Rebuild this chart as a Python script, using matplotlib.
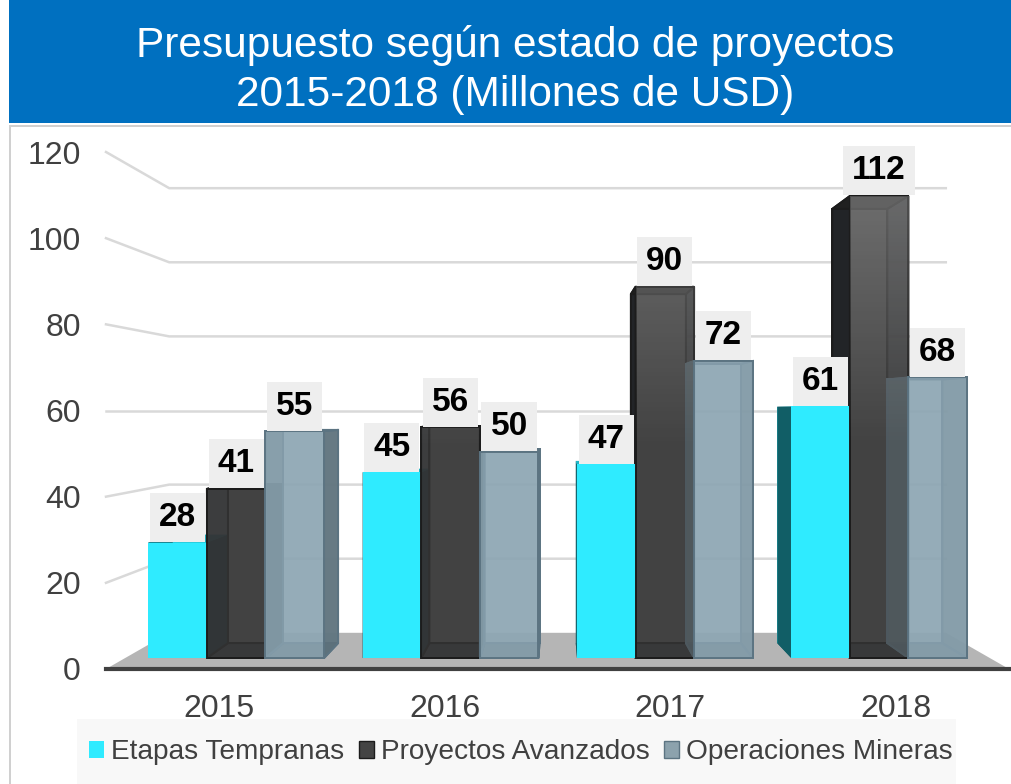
import matplotlib
matplotlib.use('Agg')
import matplotlib.pyplot as plt
import numpy as np
from matplotlib.patches import Rectangle, Patch

plt.rcParams['font.family'] = ['Liberation Sans', 'DejaVu Sans']

years = ['2015', '2016', '2017', '2018']
series_names = ['Etapas Tempranas', 'Proyectos Avanzados', 'Operaciones Mineras']
etapas = [28, 45, 47, 61]
proyectos = [41, 56, 90, 112]
operaciones = [55, 50, 72, 68]
y_ticks = [0, 20, 40, 60, 80, 100, 120]
title = 'Presupuesto según estado de proyectos\n2015-2018 (Millones de USD)'

W, H = 1012, 784
# perspective of the fake 3d chart, all in data units
VX, VY = 1.5, 60
S_FRONT, S_BACK, S_WALL = 0.9575, 0.90, 0.86
BAR_W = 0.2711
SPREAD, SHIFT = 0.9915, 0.0135

front_col = ['#2FEBFF', (0.26, 0.26, 0.26, 0.55), (0.56, 0.66, 0.71, 0.75)]
side_col = ['#115E66', (0.12, 0.13, 0.14, 0.90), (0.36, 0.44, 0.48, 0.85)]
back_col = ['#2FEBFF', (0.26, 0.26, 0.26, 1.0), (0.54, 0.63, 0.68, 0.75)]
top_col = ['#22B4C4', (0.12, 0.12, 0.12, 0.95), (0.42, 0.50, 0.55, 0.90)]
edge_col = ['none', '#1c1c1c', '#5C7482']


def proj(x, v, s):
    return VX + (x - VX) * s, VY + (v - VY) * s


def face(ax, pts, color, edge='none', z=3):
    xs = [p[0] for p in pts]
    ys = [p[1] for p in pts]
    ax.fill(xs, ys, facecolor=color, edgecolor=edge, linewidth=1.4, zorder=z, clip_on=False)


def sheen(ax, a, b, v, z):
    # tall dark bars get lighter towards the top
    x0, y0 = proj(a, 50, S_FRONT)
    x1, y1 = proj(b, v, S_FRONT)
    n = 40
    img = np.ones((n, 1, 4))
    lev = np.linspace(50, v, n)
    img[:, 0, 3] = np.clip((lev - 50) / 60, 0, 1) * 0.22
    ax.imshow(img, extent=(x0, x1, y0, y1), origin='lower', aspect='auto', zorder=z, interpolation='bilinear')


fig = plt.figure(figsize=(W / 100, H / 100), dpi=100)
fig.patches.append(Rectangle((9 / W, 1 - 123 / H), 1 - 9 / W, 123 / H, transform=fig.transFigure, facecolor='#0070C0', edgecolor='none'))
fig.patches.append(Rectangle((9 / W, 0), 2 / W, 1 - 126 / H, transform=fig.transFigure, facecolor='#D0D0D0', edgecolor='none'))
fig.patches.append(Rectangle((9 / W, 1 - 127 / H), 1 - 9 / W, 2 / H, transform=fig.transFigure, facecolor='#D0D0D0', edgecolor='none'))
fig.patches.append(Rectangle((77 / W, 0), 879 / W, 65 / H, transform=fig.transFigure, facecolor='#F8F8F8', edgecolor='none'))
fig.text(515 / W, 1 - 70 / H, title, color='white', fontsize=30.5, ha='center', va='center', linespacing=1.28)

ax = fig.add_axes([106 / W, 1 - 669 / H, 903 / W, 517 / H])
ax.patch.set_alpha(0)
for name in ['top', 'left', 'right']:
    ax.spines[name].set_visible(False)
ax.spines['bottom'].set_linewidth(3)
ax.spines['bottom'].set_color('#404040')
ax.spines['bottom'].set_zorder(5)
ax.set_xticks(range(len(years)))
ax.set_xticklabels(years)
ax.set_yticks(y_ticks)
ax.tick_params(axis='x', length=0, pad=18, labelsize=23, labelcolor='#404040')
ax.tick_params(axis='y', length=0, pad=18, labelsize=23, labelcolor='#404040')

# walls and floor
for v in y_ticks[1:]:
    x0, y0 = proj(-0.5, v, 1)
    x1, y1 = proj(-0.5, v, S_WALL)
    x2, y2 = proj(3.5, v, S_WALL)
    ax.plot([x0, x1, x2], [y0, y1, y2], color='#D9D9D9', lw=1.8, zorder=1, clip_on=False)
face(ax, [proj(-0.5, 0, 1), proj(3.5, 0, 1), proj(3.5, 0, S_WALL), proj(-0.5, 0, S_WALL)], '#B5B5B5', z=2)

all_series = [etapas, proyectos, operaciones]
for i in range(len(years)):
    for j, vals in enumerate(all_series):
        a = i * SPREAD + SHIFT + (j - 1.5) * BAR_W
        b = a + BAR_W
        v = vals[i]
        z = 3 + j * 0.1
        # back, floor, top and the two sides
        face(ax, [proj(a, 0, S_BACK), proj(b, 0, S_BACK), proj(b, v, S_BACK), proj(a, v, S_BACK)], back_col[j], edge_col[j], z)
        face(ax, [proj(a, 0, S_FRONT), proj(b, 0, S_FRONT), proj(b, 0, S_BACK), proj(a, 0, S_BACK)], side_col[j], edge_col[j], z)
        face(ax, [proj(a, 0, S_FRONT), proj(a, v, S_FRONT), proj(a, v, S_BACK), proj(a, 0, S_BACK)], side_col[j], edge_col[j], z)
        face(ax, [proj(b, 0, S_FRONT), proj(b, v, S_FRONT), proj(b, v, S_BACK), proj(b, 0, S_BACK)], side_col[j], edge_col[j], z)
        face(ax, [proj(a, v, S_FRONT), proj(b, v, S_FRONT), proj(b, v, S_BACK), proj(a, v, S_BACK)], top_col[j], edge_col[j], z)
    for j, vals in enumerate(all_series):
        a = i * SPREAD + SHIFT + (j - 1.5) * BAR_W
        b = a + BAR_W
        v = vals[i]
        face(ax, [proj(a, 0, S_FRONT), proj(b, 0, S_FRONT), proj(b, v, S_FRONT), proj(a, v, S_FRONT)], front_col[j], edge_col[j], 4 + j * 0.1)
        if j == 1 and v > 50:
            sheen(ax, a, b, v, 4.15)
        tx, ty = proj(a + BAR_W / 2, v, S_FRONT)
        ax.annotate(str(v), (tx, ty), xytext=(0, 18), textcoords='offset points', ha='center', va='center',
                    fontsize=24, fontweight='bold', color='black', zorder=6, annotation_clip=False,
                    bbox=dict(facecolor='#EEEEEE', edgecolor='none', pad=6.5))

ax.set_xlim(-0.5, 3.5)
ax.set_ylim(0, 120)

handles = [Patch(facecolor='#2FEBFF', edgecolor='none'),
           Patch(facecolor='#444444', edgecolor='#1c1c1c'),
           Patch(facecolor='#8CA2AD', edgecolor='#5C7482')]
leg = fig.legend(handles, series_names, ncol=3, loc='center', bbox_to_anchor=(521 / W, 1 - 752 / H),
                 fontsize=20.2, frameon=False, handlelength=0.55, handleheight=0.55, handletextpad=0.25,
                 columnspacing=0.5, labelcolor='#404040', borderpad=0)

fig.savefig('out.png', dpi=100)
